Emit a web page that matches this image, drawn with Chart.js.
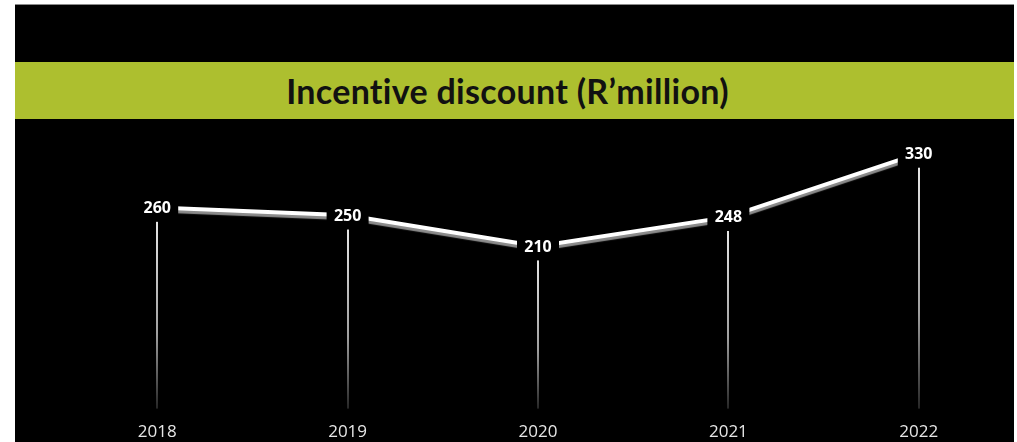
<!DOCTYPE html>
<html>
<head>
<meta charset="utf-8">
<script src="https://cdn.jsdelivr.net/npm/chart.js@4"></script>
<style>
  html, body { margin: 0; padding: 0; background: #fff; overflow: hidden; }
  #panel {
    position: absolute; left: 15px; top: 4px; width: 999px; height: 438px;
    background: #000; border-top: 1px solid #8a8a8a; box-sizing: border-box;
  }
  #band {
    position: absolute; left: 15px; top: 62px; width: 999px; height: 57px;
    background: #adbf2f; display: flex; align-items: center; justify-content: center;
    box-sizing: border-box; padding-right: 14px;
    font-family: Lato, sans-serif; font-weight: bold; font-size: 34px;
    letter-spacing: 0.3px; color: #111;
  }
  #wrap { position: absolute; left: 15px; top: 120px; width: 999px; height: 335px; }
</style>
</head>
<body>
<div id="panel"></div>
<div id="band">Incentive discount (R’million)</div>
<div id="wrap"><canvas id="discountChart"></canvas></div>
<script>
const years = ['2018', '2019', '2020', '2021', '2022'];
const discount = [260, 250, 210, 248, 330];

// faded drop lines from each point down to zero
const dropLines = {
  id: 'dropLines',
  beforeDatasetsDraw(chart) {
    const ctx = chart.ctx;
    const y = chart.scales.y;
    const base = y.getPixelForValue(0);
    chart.getDatasetMeta(0).data.forEach(pt => {
      const top = pt.y + 14;
      const grad = ctx.createLinearGradient(0, top, 0, base);
      grad.addColorStop(0, '#e6e6e6');
      grad.addColorStop(0.6, '#a0a0a0');
      grad.addColorStop(1, '#262626');
      ctx.save();
      ctx.fillStyle = grad;
      ctx.fillRect(Math.round(pt.x) - 1, top, 2, base - top);
      ctx.restore();
    });
  }
};

// grey shadow under the line
const lineShadow = {
  id: 'lineShadow',
  beforeDatasetDraw(chart) {
    const ctx = chart.ctx;
    ctx.save();
    ctx.shadowColor = '#8c8c8c';
    ctx.shadowOffsetY = 3;
    ctx.shadowBlur = 1;
  },
  afterDatasetDraw(chart) {
    chart.ctx.restore();
  }
};

// value labels on black boxes
const valueLabels = {
  id: 'valueLabels',
  afterDatasetsDraw(chart) {
    const ctx = chart.ctx;
    const values = chart.data.datasets[0].data;
    chart.getDatasetMeta(0).data.forEach((pt, i) => {
      ctx.save();
      ctx.fillStyle = '#000';
      ctx.fillRect(pt.x - 21, pt.y - 14, 42, 28);
      ctx.fillStyle = '#fff';
      ctx.font = 'bold 16px "Open Sans"';
      ctx.textAlign = 'center';
      ctx.textBaseline = 'middle';
      ctx.fillText(String(values[i]), pt.x, pt.y + 1);
      ctx.restore();
    });
  }
};

new Chart(document.getElementById('discountChart'), {
  type: 'line',
  data: {
    labels: years,
    datasets: [{
      data: discount,
      borderColor: '#ffffff',
      borderWidth: 4,
      pointRadius: 0,
      tension: 0,
      fill: false
    }]
  },
  options: {
    responsive: true,
    maintainAspectRatio: false,
    animation: false,
    layout: { padding: { left: 47, right: 0, top: 18, bottom: 0 } },
    plugins: { legend: { display: false }, tooltip: { enabled: false } },
    scales: {
      x: {
        offset: true,
        grid: { display: false, drawTicks: false },
        border: { display: false },
        ticks: { color: '#e6e6e6', padding: 13, font: { family: '"Open Sans"', size: 17 } }
      },
      y: { display: false, min: 0, max: 350 }
    }
  },
  plugins: [dropLines, lineShadow, valueLabels]
});
</script>
</body>
</html>
